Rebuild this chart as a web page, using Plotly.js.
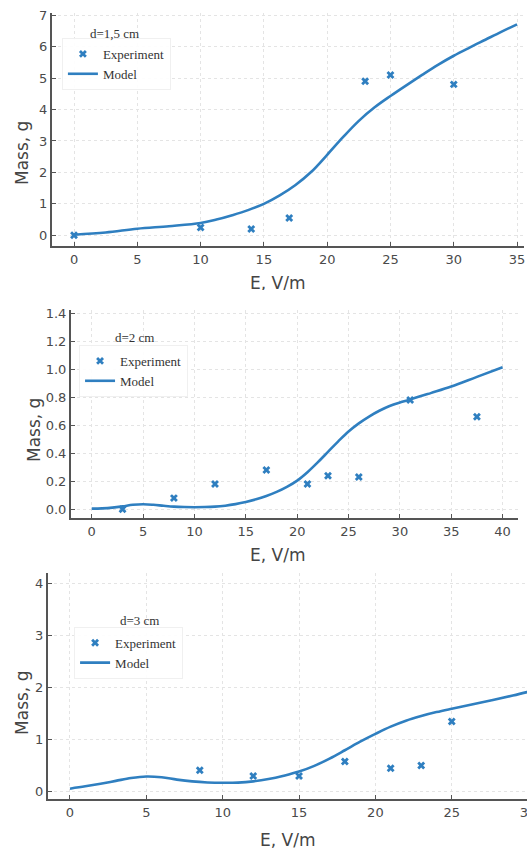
<!DOCTYPE html>
<html>
<head>
<meta charset="utf-8">
<script src="https://cdn.plot.ly/plotly-3.0.1.min.js"></script>
<style>
html,body{margin:0;padding:0;background:#fff;overflow:hidden;width:527px;height:849px;}
.p{position:absolute;left:0;}
</style>
</head>
<body>
<div id="p1" class="p" style="top:0px;"></div>
<div id="p2" class="p" style="top:290px;"></div>
<div id="p3" class="p" style="top:570px;"></div>
<script>
// ---- Panel 1: d = 1,5 cm ----
const exp1E = [0, 10, 14, 17, 23, 25, 30];
const exp1M = [0, 0.25, 0.2, 0.55, 4.9, 5.1, 4.8];
const mod1E = [0, 2.5, 5, 7.5, 10, 11.25, 12.5, 13.75, 15, 16.25, 17.5, 18.75, 20, 21.25, 22.5, 23.75, 25, 26.25, 27.5, 28.75, 30, 31.25, 32.5, 33.75, 35];
const mod1M = [0.02, 0.09, 0.21, 0.29, 0.39, 0.5, 0.64, 0.8, 1.0, 1.27, 1.6, 2.02, 2.56, 3.12, 3.64, 4.07, 4.43, 4.77, 5.1, 5.42, 5.71, 5.97, 6.22, 6.47, 6.71];
// ---- Panel 2: d = 2 cm ----
const exp2E = [3, 8, 12, 17, 21, 23, 26, 31, 37.5];
const exp2M = [0.0, 0.08, 0.18, 0.28, 0.18, 0.24, 0.23, 0.78, 0.66];
const mod2E = [0, 1, 2, 3, 4, 5, 6, 7, 8, 9, 10, 11, 12, 13, 14, 15, 16, 17, 18, 19, 20, 21, 22, 23, 24, 25, 26, 27, 28, 29, 30, 31, 33, 35, 37.5, 40];
const mod2M = [0.005, 0.007, 0.012, 0.021, 0.032, 0.036, 0.032, 0.025, 0.019, 0.016, 0.015, 0.016, 0.019, 0.026, 0.037, 0.052, 0.071, 0.095, 0.124, 0.16, 0.205, 0.265, 0.335, 0.41, 0.485, 0.555, 0.613, 0.662, 0.703, 0.737, 0.762, 0.783, 0.829, 0.876, 0.945, 1.014];
// ---- Panel 3: d = 3 cm ----
const exp3E = [8.5, 12, 15, 18, 21, 23, 25];
const exp3M = [0.4, 0.29, 0.29, 0.57, 0.44, 0.49, 1.34];
const mod3E = [0, 1, 2, 3, 4, 5, 6, 7, 8, 9, 10, 11, 12, 13, 14, 15, 16, 17, 18, 19, 20, 21, 22, 23, 24, 25, 27, 29, 30];
const mod3M = [0.045, 0.09, 0.14, 0.195, 0.25, 0.28, 0.265, 0.22, 0.185, 0.165, 0.158, 0.162, 0.185, 0.23, 0.295, 0.375, 0.485, 0.625, 0.785, 0.95, 1.1, 1.24, 1.355, 1.445, 1.52, 1.585, 1.71, 1.84, 1.91];

const labels = {d1: 'd=1,5 cm', d2: 'd=2 cm', d3: 'd=3 cm', xt: 'E, V/m', yt: 'Mass, g', e: 'Experiment', m: 'Model'};

const BLUE = '#2f7fc0';
const tickFont = {family: 'DejaVu Sans', size: 13, color: '#4a4a4a'};
const titleFont = {family: 'DejaVu Sans', size: 17, color: '#444'};
const legFont = {family: 'Liberation Serif', size: 13, color: '#333'};

function axis(range, dtick, fmt) {
  return {
    range: range, dtick: dtick, tick0: 0, tickformat: fmt || '',
    showgrid: true, gridcolor: '#e4e4e4', griddash: 'dot', gridwidth: 1,
    zeroline: false, showline: true, linecolor: '#555', linewidth: 2,
    ticks: 'inside', ticklen: 4, tickcolor: '#555', tickfont: tickFont,
    fixedrange: true
  };
}

function panel(id, o) {
  const traces = [
    {x: o.eE, y: o.eM, type: 'scatter', mode: 'markers', name: labels.e,
     marker: {symbol: 'x', size: 7, color: BLUE, line: {width: 0}}},
    {x: o.mE, y: o.mM, type: 'scatter', mode: 'lines', name: labels.m,
     line: {color: BLUE, width: 2.6, shape: 'spline', smoothing: 1}}
  ];
  const layout = {
    width: o.w, height: o.h,
    margin: o.margin,
    paper_bgcolor: '#fff', plot_bgcolor: '#fff',
    xaxis: axis(o.xr, 5),
    yaxis: axis(o.yr, o.ydt, o.yfmt),
    showlegend: true,
    legend: {x: o.lx, y: o.ly, xanchor: 'left', yanchor: 'top', font: legFont,
             bgcolor: 'rgba(255,255,255,0.9)', bordercolor: '#f0f0f0', borderwidth: 1,
             tracegroupgap: 0, itemwidth: 30},
    annotations: [
      {text: o.dl, xref: 'paper', yref: 'paper', x: o.dx, y: o.dy, xanchor: 'left', yanchor: 'middle',
       showarrow: false, font: legFont},
      {text: labels.xt, xref: 'paper', yref: 'paper', x: o.xtx, y: 0, yshift: o.xts, xanchor: 'center', yanchor: 'middle',
       showarrow: false, font: titleFont},
      {text: labels.yt, xref: 'paper', yref: 'paper', x: 0, xshift: o.yts, y: o.yty, textangle: -90, xanchor: 'center', yanchor: 'middle',
       showarrow: false, font: titleFont}
    ]
  };
  Plotly.newPlot(id, traces, layout, {staticPlot: true, displayModeBar: false});
}

panel('p1', {eE: exp1E, eM: exp1M, mE: mod1E, mM: mod1M, dl: labels.d1,
  w: 527, h: 295, margin: {l: 52, r: 3, t: 13, b: 49},
  xr: [-1.74, 35.55], yr: [-0.34, 7.07], ydt: 1,
  lx: 0.021, ly: 0.893, dx: 0.076, dy: 0.91, xtx: 0.477, xts: -37, yts: -30, yty: 0.399});

panel('p2', {eE: exp2E, eM: exp2M, mE: mod2E, mM: mod2M, dl: labels.d2,
  w: 527, h: 280, margin: {l: 71, r: 9, t: 20, b: 52},
  xr: [-2.02, 41.5], yr: [-0.062, 1.422], ydt: 0.2, yfmt: '.1f',
  lx: 0.018, ly: 0.832, dx: 0.094, dy: 0.87, xtx: 0.461, xts: -37, yts: -37, yty: 0.423});

panel('p3', {eE: exp3E, eM: exp3M, mE: mod3E, mM: mod3M, dl: labels.d3,
  w: 545, h: 279, margin: {l: 48, r: 5, t: 3, b: 50},
  xr: [-1.44, 30.78], yr: [-0.154, 4.2], ydt: 1,
  lx: 0.053, ly: 0.762, dx: 0.142, dy: 0.788, xtx: 0.486, xts: -41, yts: -26, yty: 0.425});
</script>
</body>
</html>
